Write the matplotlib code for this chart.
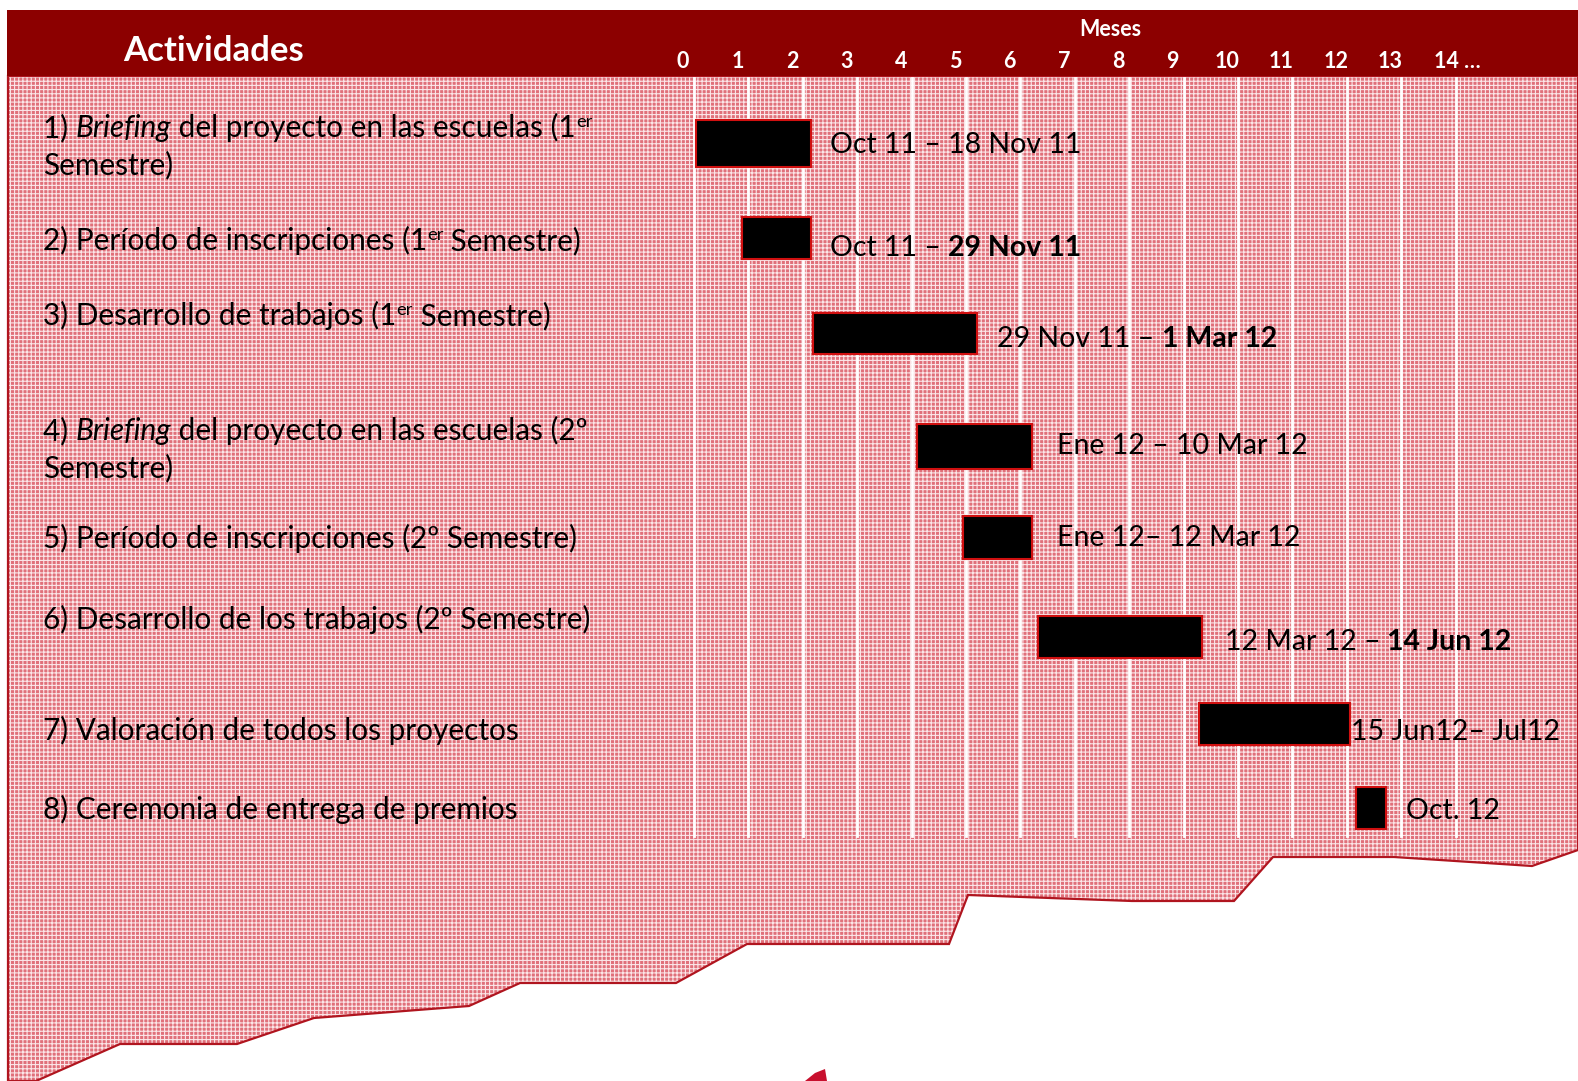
import matplotlib
matplotlib.use("Agg")
import matplotlib.pyplot as plt
from matplotlib.patches import Polygon, Rectangle

plt.rcParams['font.family'] = ['Lato', 'DejaVu Sans']
plt.rcParams['hatch.linewidth'] = 0.8

# ---------------- data ----------------
months = list(range(15))
month_labels = ['0', '1', '2', '3', '4', '5', '6', '7', '8', '9', '10', '11', '12', '13', '14 …']

task_start = [0.03, 0.88, 2.19, 4.10, 4.95, 6.32, 9.28, 12.16]
task_end = [2.15, 2.15, 5.21, 6.22, 6.22, 9.33, 12.05, 12.72]

# row labels as runs: (text, style)  style: n normal, i italic, b bold, s superscript
task_labels = [
    [[("1) ", "n"), ("Briefing", "i"), (" del proyecto en las escuelas (1", "n"), ("er", "s")],
     [("Semestre)", "n")]],
    [[("2) Período de inscripciones (1", "n"), ("er", "s"), (" Semestre)", "n")]],
    [[("3) Desarrollo de trabajos (1", "n"), ("er", "s"), (" Semestre)", "n")]],
    [[("4) ", "n"), ("Briefing", "i"), (" del proyecto en las escuelas (2º", "n")],
     [("Semestre)", "n")]],
    [[("5) Período de inscripciones (2º Semestre)", "n")]],
    [[("6) Desarrollo de los trabajos (2º Semestre)", "n")]],
    [[("7) Valoración de todos los proyectos", "n")]],
    [[("8) Ceremonia de entrega de premios", "n")]],
]

date_labels = [
    [("Oct 11 – 18 Nov 11", "n")],
    [("Oct 11 – ", "n"), ("29 Nov 11", "b")],
    [("29 Nov 11 – ", "n"), ("1 Mar 12", "b")],
    [("Ene 12 – 10 Mar 12", "n")],
    [("Ene 12– 12 Mar 12", "n")],
    [("12 Mar 12 – ", "n"), ("14 Jun 12", "b")],
    [("15 Jun12– Jul12", "n")],
    [("Oct. 12", "n")],
]

# ---------------- layout (pixel units, y down) ----------------
W, H = 1578, 1081
row_center = [143.5, 238, 333.5, 446.5, 537.5, 637, 724, 808]
row_height = [47, 42, 41, 45, 43, 42, 42, 42]
label_baselines = [[137, 174], [250], [325], [440, 477], [548], [629], [740], [819]]
date_baselines = [153, 256, 347, 454, 546, 650, 740, 819]
date_pad = [19, 19, 20, 25, 25, 23, 1, 20]
month_px0, month_px = 694, 54.4

fig = plt.figure(figsize=(W / 100, H / 100), dpi=100)
bg = fig.add_axes([0, 0, 1, 1], zorder=0)
bg.set_xlim(0, W)
bg.set_ylim(H, 0)
bg.axis('off')

ax = fig.add_axes([0, 0, 1, 1], zorder=1)
ax.set_xlim(-month_px0 / month_px, (W - month_px0) / month_px)
ax.set_ylim(H, 0)
ax.patch.set_alpha(0)
ax.axis('off')

dark_red = '#8c0000'
# pink textured body
body = [(8, 76), (W, 76), (W, 850), (1532, 866), (1394, 857), (1273, 857), (1234, 901),
        (1132, 901), (968, 895), (949, 944), (747, 944), (676, 983), (520, 983),
        (469, 1006), (314, 1018), (237, 1044), (120, 1044), (36, H), (8, H)]
bg.add_patch(Polygon(body, closed=True, facecolor='#e0707a', edgecolor='#fbe6e8',
                     hatch='++++', linewidth=0, zorder=1))
bg.add_patch(Polygon(body, closed=True, fill=False, edgecolor='#b0151f', linewidth=1.6, zorder=2))
# header
bg.add_patch(Rectangle((7, 10), W - 7, 66, facecolor=dark_red, edgecolor='none', zorder=3))

# small logo fragment
bg.add_patch(Polygon([(805, H), (815, 1073), (825, 1069), (827, H)], closed=True,
                     facecolor='#c8102e', edgecolor='none', zorder=2))

# grid lines
for m in months:
    ax.plot([m, m], [78, 836], color='white', linewidth=2, zorder=1)

# bars
ax.barh(row_center, [e - s for s, e in zip(task_start, task_end)], left=task_start,
        height=row_height, color='black', edgecolor='#d01010', linewidth=1.5, zorder=3)

renderer = fig.canvas.get_renderer()


def draw_runs(x, y, runs, fs, color='black'):
    for text, st in runs:
        kw = dict(fontsize=fs, color=color, va='baseline', ha='left')
        yy = y
        if st == 'i':
            kw['style'] = 'italic'
        elif st == 'b':
            kw['weight'] = 'bold'
        elif st == 's':
            kw['fontsize'] = fs * 0.62
            yy = y - 10
        t = ax.text(x, yy, text, transform=bg.transData, zorder=5, **kw)
        x += t.get_window_extent(renderer).width
    return x


for lines, bls in zip(task_labels, label_baselines):
    for runs, b in zip(lines, bls):
        draw_runs(43, b, runs, 21.4)

for i, runs in enumerate(date_labels):
    xd = ax.transData.transform((task_end[i], 0))[0]
    draw_runs(xd + date_pad[i], date_baselines[i], runs, 20.5)

# header texts
bg.text(123, 61, 'Actividades', fontsize=25, weight='bold', color='white', va='baseline', zorder=6)
bg.text(1110, 36, 'Meses', fontsize=15.5, weight='bold', color='white', va='baseline', ha='center', zorder=6)
for m, lab in zip(months, month_labels):
    xd = ax.transData.transform((m - 0.2, 0))[0]
    if lab.endswith('…'):
        bg.text(xd - 11, 68, lab, fontsize=15.5, weight='bold', color='white',
                va='baseline', ha='left', zorder=6)
    else:
        bg.text(xd, 68, lab, fontsize=15.5, weight='bold', color='white',
                va='baseline', ha='center', zorder=6)

fig.savefig('out.png', dpi=100)
